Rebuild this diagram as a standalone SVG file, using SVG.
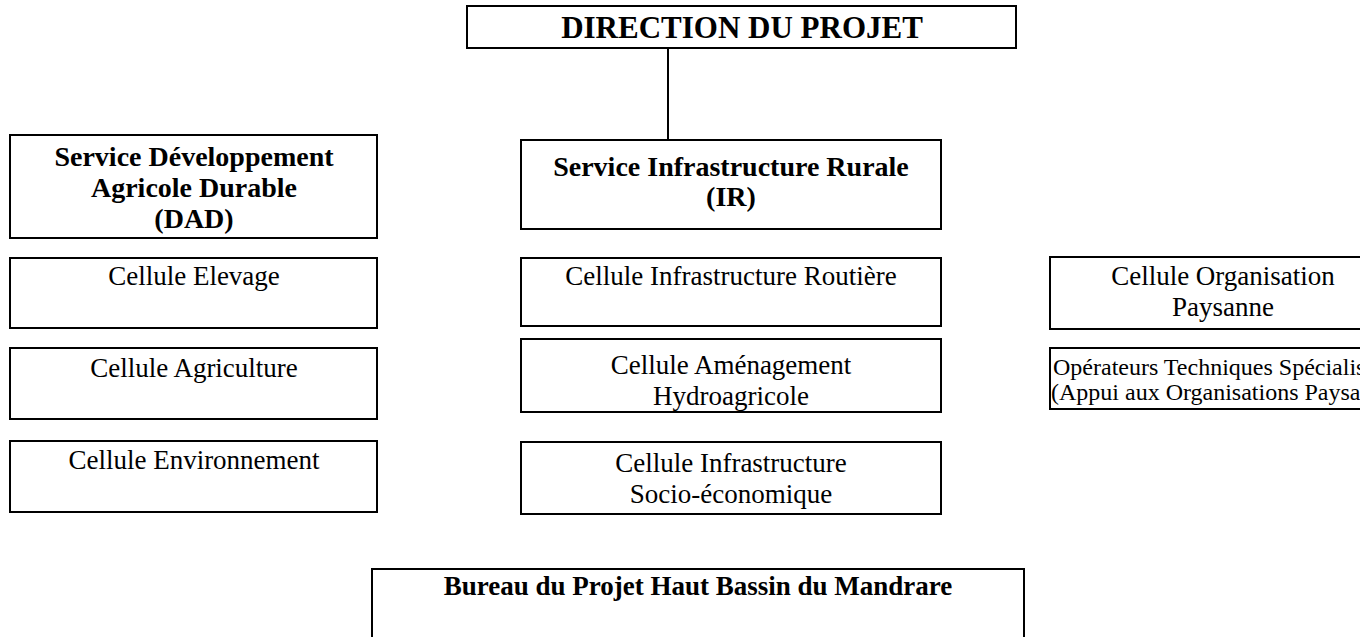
<svg xmlns="http://www.w3.org/2000/svg" width="1360" height="637" viewBox="0 0 1360 637">
<style>
rect{fill:#fff;stroke:#000;stroke-width:2}
text{font-family:"Liberation Serif","Times New Roman",serif;fill:#000;text-anchor:middle}
.b{font-weight:bold;font-size:28px}
.r{font-size:27px}
.s{font-size:24px;text-anchor:start}
.c line{stroke:#000;stroke-width:2}
</style>
<rect x="0" y="0" width="1360" height="637" style="stroke:none"/>
<g class="c"><line x1="668" y1="48" x2="668" y2="140"/></g>
<g id="direction"><rect x="467" y="6" width="549" height="42"/><text class="b" x="742" y="38" style="font-size:31px">DIRECTION DU PROJET</text></g>
<g id="dad"><rect x="10" y="135" width="367" height="103"/><text class="b" x="194" y="166">Service Développement</text><text class="b" x="194" y="197">Agricole Durable</text><text class="b" x="194" y="228">(DAD)</text></g>
<g id="ir"><rect x="521" y="140" width="420" height="89"/><text class="b" x="731" y="176">Service Infrastructure Rurale</text><text class="b" x="731" y="206">(IR)</text></g>
<g id="elevage"><rect x="10" y="258" width="367" height="70"/><text class="r" x="194" y="285">Cellule Elevage</text></g>
<g id="agriculture"><rect x="10" y="348" width="367" height="71"/><text class="r" x="194" y="377">Cellule Agriculture</text></g>
<g id="environnement"><rect x="10" y="441" width="367" height="71"/><text class="r" x="194" y="469">Cellule Environnement</text></g>
<g id="routiere"><rect x="521" y="258" width="420" height="68"/><text class="r" x="731" y="285">Cellule Infrastructure Routière</text></g>
<g id="amenagement"><rect x="521" y="339" width="420" height="73"/><text class="r" x="731" y="374">Cellule Aménagement</text><text class="r" x="731" y="405">Hydroagricole</text></g>
<g id="socio"><rect x="521" y="442" width="420" height="72"/><text class="r" x="731" y="472">Cellule Infrastructure</text><text class="r" x="731" y="503">Socio-économique</text></g>
<g id="organisation"><rect x="1050" y="257" width="346" height="72"/><text class="r" x="1223" y="285">Cellule Organisation</text><text class="r" x="1223" y="316">Paysanne</text></g>
<g id="operateurs"><rect x="1050" y="348" width="346" height="61"/><text class="s" x="1053" y="375">Opérateurs Techniques Spécialisés</text><text class="s" x="1051" y="400">(Appui aux Organisations Paysannes)</text></g>
<g id="bureau"><rect x="372" y="569" width="652" height="80"/><text class="b" x="698" y="595" style="font-size:27px">Bureau du Projet Haut Bassin du Mandrare</text></g>
</svg>
